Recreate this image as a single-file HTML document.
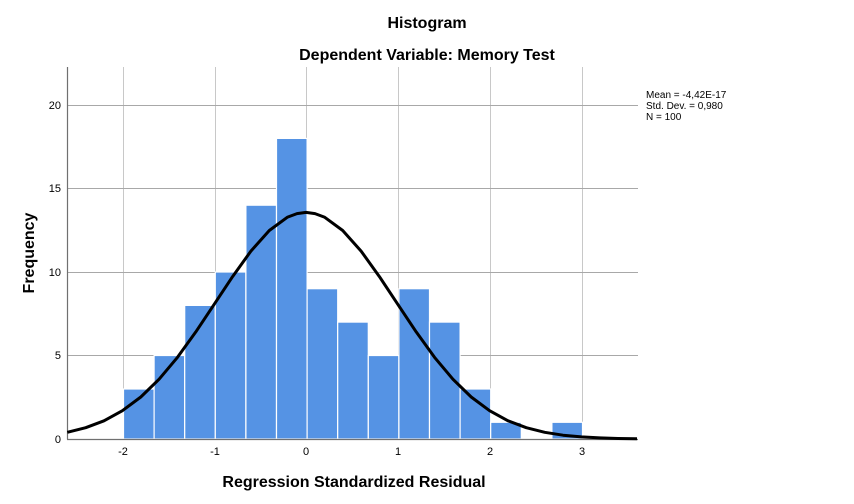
<!DOCTYPE html><html><head><style>body{margin:0;background:#fff}svg{display:block}text{font-family:"Liberation Sans",Arial,sans-serif}</style></head><body>
<svg width="854" height="504" xmlns="http://www.w3.org/2000/svg">
<rect width="854" height="504" fill="#fff"/>
<text x="427" y="28" font-size="16" font-weight="bold" text-anchor="middle">Histogram</text>
<text x="427" y="60" font-size="16" font-weight="bold" text-anchor="middle">Dependent Variable: Memory Test</text>
<g stroke="#c8c8c8" stroke-width="1">
<line x1="123.5" y1="67" x2="123.5" y2="439"/><line x1="215.5" y1="67" x2="215.5" y2="439"/><line x1="306.5" y1="67" x2="306.5" y2="439"/><line x1="398.5" y1="67" x2="398.5" y2="439"/><line x1="490.5" y1="67" x2="490.5" y2="439"/><line x1="582.5" y1="67" x2="582.5" y2="439"/>
</g>
<g stroke="#a8a8a8" stroke-width="1">
<line x1="67" y1="105.5" x2="638" y2="105.5"/><line x1="67" y1="188.5" x2="638" y2="188.5"/><line x1="67" y1="272.5" x2="638" y2="272.5"/><line x1="67" y1="355.5" x2="638" y2="355.5"/>
</g>
<g fill="#5593e4" stroke="#fff" stroke-width="1.2">
<rect x="123.5" y="389" width="30.6" height="50"/>
<rect x="154.1" y="355.5" width="30.6" height="83.5"/>
<rect x="184.7" y="305.4" width="30.6" height="133.6"/>
<rect x="215.3" y="272" width="30.6" height="167"/>
<rect x="245.9" y="205.2" width="30.6" height="233.8"/>
<rect x="276.5" y="138.4" width="30.6" height="300.6"/>
<rect x="307.1" y="288.7" width="30.6" height="150.3"/>
<rect x="337.7" y="322.1" width="30.6" height="116.9"/>
<rect x="368.3" y="355.5" width="30.6" height="83.5"/>
<rect x="398.9" y="288.7" width="30.6" height="150.3"/>
<rect x="429.5" y="322.1" width="30.6" height="116.9"/>
<rect x="460.1" y="389" width="30.6" height="50"/>
<rect x="490.7" y="422.3" width="30.6" height="16.7"/>
<rect x="551.9" y="422.3" width="30.6" height="16.7"/>
</g>
<line x1="67.5" y1="67" x2="67.5" y2="439.5" stroke="#707070" stroke-width="1.2"/>
<line x1="67" y1="439.5" x2="638" y2="439.5" stroke="#707070" stroke-width="1.2"/>
<polyline fill="none" stroke="#000" stroke-width="3" stroke-linejoin="round" points="67.3,432.3 85.7,427.7 104,420.8 122.4,410.7 140.8,397 159.1,379.2 177.5,357.3 195.8,331.9 214.2,304.3 232.6,276.6 250.9,251.1 269.3,230.5 287.6,217.1 297,213.6 306,212.4 315,213.6 324.4,217.1 342.7,230.5 361.1,251.1 379.4,276.6 397.8,304.3 416.2,331.9 434.5,357.3 452.9,379.2 471.2,397 489.6,410.7 508,420.8 526.3,427.7 544.7,432.3 563,435.2 581.4,436.9 599.8,437.9 618,438.5 637,438.8"/>
<g font-size="11" text-anchor="end">
<text x="61" y="443">0</text><text x="61" y="359">5</text><text x="61" y="276">10</text><text x="61" y="192">15</text><text x="61" y="109">20</text>
</g>
<g font-size="11" text-anchor="middle">
<text x="123" y="455">-2</text><text x="215" y="455">-1</text><text x="306" y="455">0</text><text x="398" y="455">1</text><text x="490" y="455">2</text><text x="582" y="455">3</text>
</g>
<text x="354" y="487" font-size="16" font-weight="bold" text-anchor="middle">Regression Standardized Residual</text>
<text transform="translate(34,253) rotate(-90)" font-size="16" font-weight="bold" text-anchor="middle">Frequency</text>
<g font-size="10">
<text x="646" y="98">Mean = -4,42E-17</text><text x="646" y="109">Std. Dev. = 0,980</text><text x="646" y="120">N = 100</text>
</g>
</svg></body></html>
